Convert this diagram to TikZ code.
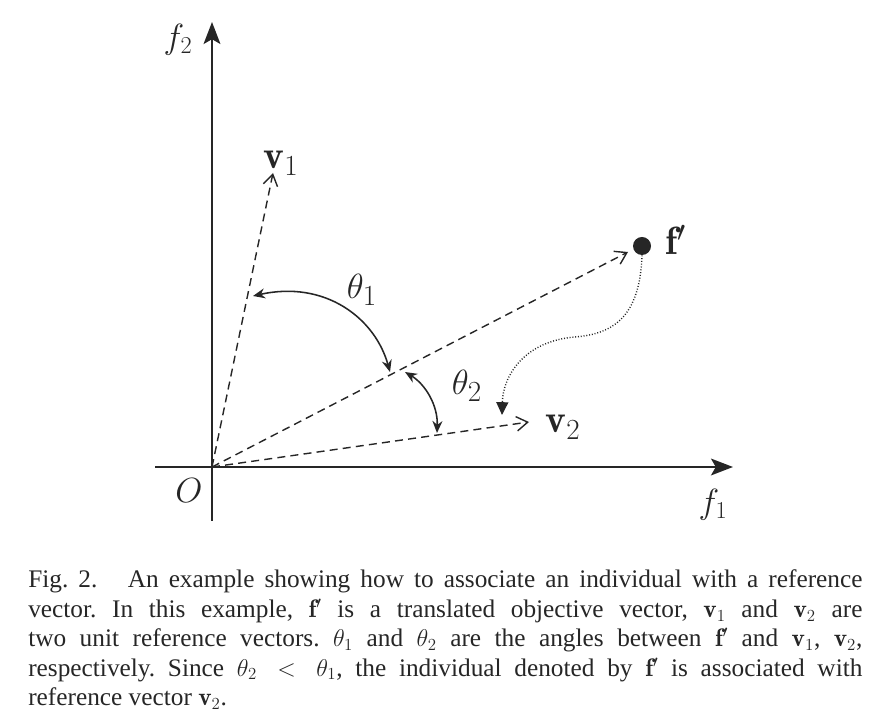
\documentclass[tikz,border=0pt]{standalone}
\usepackage{fontspec}
\newfontfamily\capfont{Liberation Serif}
\usetikzlibrary{arrows.meta}
\frenchspacing
\newcommand{\capline}[1]{#1\linebreak}
\tikzset{
  axis/.style={line width=1.4pt,-{Stealth[length=0.55cm,width=0.42cm,inset=0.12cm]}},
  refvec/.style={line width=1pt,dash pattern=on 0.2cm off 0.13cm,-{Straight Barb[length=0.28cm,width=0.36cm]}},
  angarc/.style={line width=1.1pt,{Stealth[length=0.3cm,width=0.25cm]}-{Stealth[length=0.3cm,width=0.25cm]}},
  assoc/.style={line width=1pt,dash pattern=on 0.7pt off 1.3pt,-{Triangle[length=0.32cm,width=0.3cm]}},
  axlbl/.style={font=\fontsize{24}{28}\selectfont,inner sep=0pt},
  lbl/.style={font=\fontsize{28}{32}\selectfont,inner sep=0pt},
  dot/.style={circle,fill=black!85,inner sep=0pt,minimum size=0.45cm},
  captext/.style={inner sep=0pt,text width=20.85cm,align=justify,
    font=\capfont\fontsize{18pt}{20.9pt}\selectfont}
}
\begin{document}
\begin{tikzpicture}[x=0.025cm,y=-0.025cm,color=black!85]
\useasboundingbox (0,0) rectangle (883,720);
% axes
\coordinate (o) at (212,467);
\coordinate (f2s) at (212,521);
\coordinate (f2e) at (212,22);
\coordinate (f1s) at (155,467);
\coordinate (f1e) at (733,467);
\draw[axis] (f2s) -- (f2e);
\draw[axis] (f1s) -- (f1e);
\node[axlbl] (f2lbl) at (178,40) {$f_2$};
\node[axlbl] (f1lbl) at (713,505) {$f_1$};
\node[axlbl] (olbl) at (189,491) {$O$};

% vectors
\coordinate (v1) at (273,173);
\coordinate (v2) at (529,422);
\coordinate (fp) at (628,252);
\node[dot] (fdot) at (642,246) {};
\draw[refvec] (o) -- (v1);
\draw[refvec] (o) -- (v2);
\draw[refvec] (o) -- (fp);
\node[lbl] (v1lbl) at (281,163) {$\mathbf{v}_1$};
\node[lbl] (v2lbl) at (563,427) {$\mathbf{v}_2$};
\node[lbl] (fplbl) at (676,240) {$\mathbf{f}'$};

% angles
\coordinate (a1s) at (253,296);
\coordinate (a1e) at (390,372);
\coordinate (a2s) at (405,372);
\coordinate (a2e) at (437,433);
\draw[angarc] (a1s) .. controls (325,280) and (375,318) .. (a1e);
\draw[angarc] (a2s) .. controls (425,384) and (438,405) .. (a2e);
\node[lbl] (t1lbl) at (362,290) {$\theta_1$};
\node[lbl] (t2lbl) at (467,386) {$\theta_2$};

% association
\coordinate (fa) at (502,415);
\draw[assoc] (fdot.south) .. controls (640,318) and (612,334) .. (575,337)
  .. controls (525,341) and (503,375) .. (fa);

% caption
\node[captext,anchor=base west] (cap) at (28,588)
  {\capline{Fig. 2.\hspace{0.8em} An example showing how to associate an individual with a reference}
  \capline{vector. In this example, $\mathbf{f}'$ is a translated objective vector, $\mathbf{v}_1$ and $\mathbf{v}_2$ are}
  \capline{two unit reference vectors. $\theta_1$ and $\theta_2$ are the angles between $\mathbf{f}'$ and $\mathbf{v}_1$, $\mathbf{v}_2$,}
  \capline{respectively. Since $\theta_2<\theta_1$, the individual denoted by $\mathbf{f}'$ is associated with}
  reference vector $\mathbf{v}_2$.};
\end{tikzpicture}
\end{document}
